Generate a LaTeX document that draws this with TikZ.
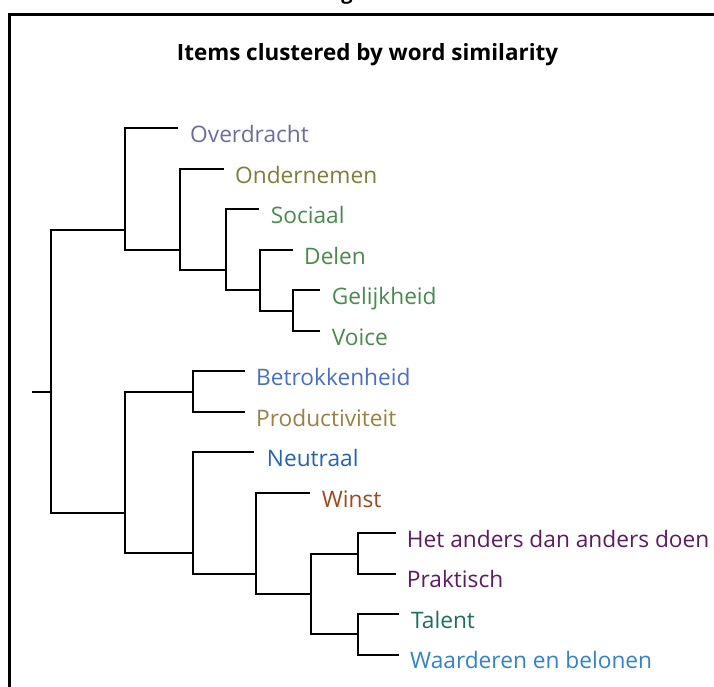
\documentclass[tikz,border=0pt]{standalone}
\usepackage{fontspec}
\setmainfont{Open Sans}
\definecolor{cOver}{HTML}{6C6CA2}
\definecolor{cOnder}{HTML}{7E7E3C}
\definecolor{cGreen}{HTML}{4A8A4E}
\definecolor{cBetr}{HTML}{4A70C4}
\definecolor{cProd}{HTML}{9A8044}
\definecolor{cNeut}{HTML}{2464B4}
\definecolor{cWinst}{HTML}{A2481E}
\definecolor{cPurp}{HTML}{5E1C60}
\definecolor{cTalent}{HTML}{1C6E5E}
\definecolor{cWaard}{HTML}{3282D2}
\begin{document}
\begin{tikzpicture}[x=1pt,y=-1pt,
  branch/.style={line width=2pt, line join=miter},
  frameline/.style={line width=3pt},
  leaf/.style={anchor=base west, inner sep=0pt, font=\fontsize{22.7}{27}\selectfont},
  titlefont/.style={inner sep=0pt, font=\bfseries\fontsize{22.4}{27}\selectfont}]
\useasboundingbox (0,0) rectangle (714,687);
\clip (0,0) rectangle (714,687);
\fill[white] (0,0) rectangle (714,687);

% outer frame, running off the right and bottom edges
\draw[frameline] (9.8,720) |- (740,14.2);
% descender of a letter cut off above
\node[inner sep=0pt, anchor=base, font=\bfseries\fontsize{20}{24}\selectfont] (gfrag) at (347,0) {g};

% title
\node[titlefont, anchor=base] (title) at (367.5,61) {Items clustered by word similarity};

% junctions of the dendrogram
\coordinate (stub) at (32,391.7);
\coordinate (root) at (51,391.7);
\coordinate (A) at (125,230);
\coordinate (B) at (180,250);
\coordinate (C) at (226,270);
\coordinate (D) at (260,290.3);
\coordinate (E) at (293,310.7);
\coordinate (F) at (125,512.7);
\coordinate (G) at (193,391.7);
\coordinate (H) at (193,552.7);
\coordinate (I) at (256,573.5);
\coordinate (J) at (311,594);
\coordinate (K) at (358,553.5);
\coordinate (L) at (358,634.3);

% leaf tips
\coordinate (t1) at (178,128.3);
\coordinate (t2) at (224,168.8);
\coordinate (t3) at (259,209.3);
\coordinate (t4) at (292.7,249.8);
\coordinate (t5) at (320,290.3);
\coordinate (t6) at (320,330.8);
\coordinate (t7) at (245,371.3);
\coordinate (t8) at (245,411.8);
\coordinate (t9) at (254,452.3);
\coordinate (t10) at (310,492.8);
\coordinate (t11) at (396,533.3);
\coordinate (t12) at (396,573.8);
\coordinate (t13) at (399,614.3);
\coordinate (t14) at (399,654.8);

% leaf labels
\node[leaf, text=cOver]   (n1)  at (190,142.6)   {Overdracht};
\node[leaf, text=cOnder]  (n2)  at (235,183.1)   {Ondernemen};
\node[leaf, text=cGreen]  (n3)  at (270.7,223.6) {Sociaal};
\node[leaf, text=cGreen]  (n4)  at (304,264.1)   {Delen};
\node[leaf, text=cGreen]  (n5)  at (331.7,304.6) {Gelijkheid};
\node[leaf, text=cGreen]  (n6)  at (331.7,345.1) {Voice};
\node[leaf, text=cBetr]   (n7)  at (256,385.6)   {Betrokkenheid};
\node[leaf, text=cProd]   (n8)  at (256,426.1)   {Productiviteit};
\node[leaf, text=cNeut]   (n9)  at (266.7,466.6) {Neutraal};
\node[leaf, text=cWinst]  (n10) at (321.7,507.1) {Winst};
\node[leaf, text=cPurp]   (n11) at (406.7,547.1) {Het anders dan anders doen};
\node[leaf, text=cPurp]   (n12) at (406.7,587.6) {Praktisch};
\node[leaf, text=cTalent] (n13) at (411,628.1)   {Talent};
\node[leaf, text=cWaard]  (n14) at (410,668.6)   {Waarderen en belonen};

% branches
\draw[branch] (stub) -- (root);
\draw[branch] (root) |- (A);
\draw[branch] (root) |- (F);
\draw[branch] (A) |- (t1);
\draw[branch] (A) |- (B);
\draw[branch] (B) |- (t2);
\draw[branch] (B) |- (C);
\draw[branch] (C) |- (t3);
\draw[branch] (C) |- (D);
\draw[branch] (D) |- (t4);
\draw[branch] (D) |- (E);
\draw[branch] (E) |- (t5);
\draw[branch] (E) |- (t6);
\draw[branch] (F) |- (G);
\draw[branch] (F) |- (H);
\draw[branch] (G) |- (t7);
\draw[branch] (G) |- (t8);
\draw[branch] (H) |- (t9);
\draw[branch] (H) |- (I);
\draw[branch] (I) |- (t10);
\draw[branch] (I) |- (J);
\draw[branch] (J) |- (K);
\draw[branch] (J) |- (L);
\draw[branch] (K) |- (t11);
\draw[branch] (K) |- (t12);
\draw[branch] (L) |- (t13);
\draw[branch] (L) |- (t14);
\end{tikzpicture}
\end{document}
